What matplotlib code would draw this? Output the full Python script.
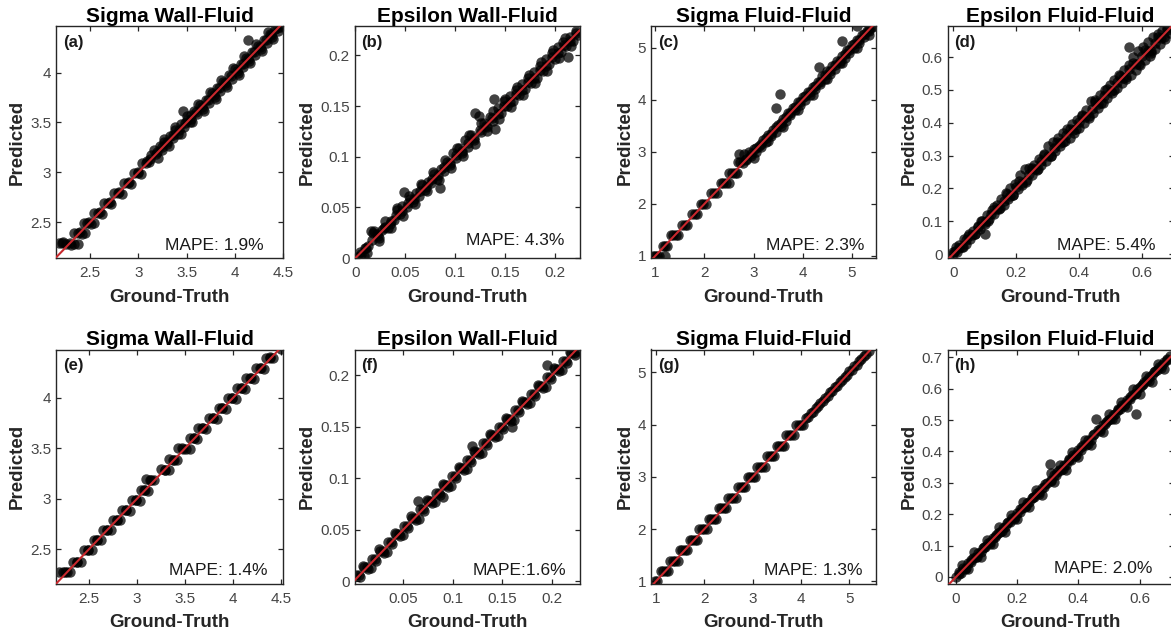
import matplotlib
matplotlib.use("Agg")
import matplotlib.pyplot as plt

plt.rcParams['font.family'] = ['Liberation Sans', 'DejaVu Sans']

titles = ["Sigma Wall-Fluid", "Epsilon Wall-Fluid", "Sigma Fluid-Fluid", "Epsilon Fluid-Fluid",
          "Sigma Wall-Fluid", "Epsilon Wall-Fluid", "Sigma Fluid-Fluid", "Epsilon Fluid-Fluid"]
panel_tags = ["(a)", "(b)", "(c)", "(d)", "(e)", "(f)", "(g)", "(h)"]
mape_texts = ["MAPE: 1.9%", "MAPE: 4.3%", "MAPE: 2.3%", "MAPE: 5.4%",
              "MAPE: 1.4%", "MAPE:1.6%", "MAPE: 1.3%", "MAPE: 2.0%"]

# ---------------- (a) ----------------
gt_a = [2.17, 2.21, 2.25, 2.29, 2.33, 2.37, 2.33, 2.37, 2.41, 2.44, 2.43, 2.47, 2.51, 2.54,
        2.54, 2.58, 2.62, 2.64, 2.68, 2.72, 2.75, 2.79, 2.83, 2.85, 2.89, 2.92, 2.95, 2.99, 3.03,
        3.04, 3.08, 3.11,
        3.13, 3.16, 3.19, 3.22, 3.24, 3.27, 3.30, 3.33, 3.36, 3.38, 3.41, 3.44, 3.47, 3.46, 3.50,
        3.53, 3.55, 3.58, 3.61, 3.64, 3.67, 3.70, 3.73, 3.76, 3.79, 3.82, 3.85, 3.88, 3.91, 3.94,
        3.97, 4.00, 4.03, 4.06, 4.09, 4.12, 4.14, 4.15, 4.18, 4.21, 4.24, 4.27, 4.30, 4.33, 4.36,
        4.39, 4.42, 4.45, 4.48, 4.50]
pred_a = [2.29, 2.29, 2.28, 2.29, 2.28, 2.28, 2.39, 2.39, 2.38, 2.39, 2.49, 2.49, 2.48, 2.49,
          2.59, 2.59, 2.58, 2.69, 2.69, 2.68, 2.79, 2.79, 2.78, 2.89, 2.89, 2.88, 2.99, 2.99, 2.98,
          3.09, 3.09, 3.10,
          3.17, 3.22, 3.20, 3.26, 3.22, 3.30, 3.28, 3.36, 3.34, 3.42, 3.38, 3.48, 3.45, 3.62, 3.52,
          3.50, 3.58, 3.62, 3.59, 3.68, 3.64, 3.73, 3.70, 3.80, 3.76, 3.85, 3.82, 3.91, 3.88, 3.98,
          3.94, 4.04, 4.00, 4.09, 4.06, 4.15, 4.33, 4.12, 4.21, 4.18, 4.27, 4.24, 4.33, 4.30, 4.39,
          4.36, 4.44, 4.42, 4.46, 4.47]
gt_a_core = [3.12, 3.18, 3.24, 3.30, 3.36, 3.42, 3.48, 3.54, 3.60, 3.66, 3.72, 3.78, 3.84, 3.90,
             3.96, 4.02, 4.08, 4.14, 4.20, 4.26, 4.32, 4.38, 4.44,
             3.20, 3.32, 3.44, 3.56, 3.68, 3.80, 3.92, 4.04, 4.16, 4.28, 4.40,
             3.26, 3.38, 3.50, 3.62, 3.74, 3.86, 3.98, 4.10, 4.22, 4.34,
             2.22, 2.30, 2.39, 2.49, 2.60, 2.70, 2.80, 2.90, 3.00, 3.09]
pred_a_core = [3.13, 3.18, 3.25, 3.30, 3.37, 3.42, 3.49, 3.54, 3.61, 3.66, 3.73, 3.78, 3.85, 3.90,
               3.97, 4.02, 4.09, 4.14, 4.21, 4.26, 4.33, 4.38, 4.45,
               3.14, 3.26, 3.38, 3.50, 3.62, 3.74, 3.86, 3.98, 4.10, 4.22, 4.34,
               3.33, 3.45, 3.57, 3.69, 3.81, 3.93, 4.05, 4.17, 4.29, 4.41,
               2.30, 2.27, 2.40, 2.50, 2.60, 2.70, 2.80, 2.90, 3.00, 3.11]

# ---------------- (b) ----------------
gt_b = [0.002, 0.006, 0.009, 0.010, 0.013, 0.016, 0.019, 0.022, 0.024, 0.027, 0.030, 0.033, 0.036,
        0.039, 0.042, 0.045, 0.047, 0.049, 0.052, 0.055, 0.058, 0.061, 0.064, 0.067, 0.070, 0.073,
        0.076, 0.079, 0.082, 0.085, 0.086, 0.089, 0.092, 0.095, 0.098, 0.101, 0.104, 0.107, 0.110,
        0.113, 0.116, 0.119, 0.120, 0.124, 0.126, 0.129, 0.132, 0.135, 0.138, 0.139, 0.140, 0.143,
        0.146, 0.149, 0.152, 0.155, 0.158, 0.161, 0.164, 0.167, 0.170, 0.173, 0.176, 0.179, 0.182,
        0.185, 0.188, 0.191, 0.194, 0.197, 0.200, 0.203, 0.206, 0.208, 0.211, 0.213, 0.215, 0.218,
        0.221, 0.223]
pred_b = [0.001, 0.004, 0.002, 0.010, 0.012, 0.027, 0.027, 0.024, 0.020, 0.028, 0.031, 0.030, 0.037,
          0.038, 0.047, 0.043, 0.051, 0.065, 0.050, 0.058, 0.055, 0.064, 0.061, 0.072, 0.067, 0.075,
          0.074, 0.083, 0.078, 0.069, 0.088, 0.086, 0.095, 0.092, 0.104, 0.099, 0.109, 0.104, 0.116,
          0.110, 0.121, 0.116, 0.143, 0.140, 0.124, 0.133, 0.129, 0.139, 0.135, 0.157, 0.127, 0.148,
          0.143, 0.155, 0.150, 0.160, 0.155, 0.166, 0.161, 0.172, 0.167, 0.178, 0.173, 0.184, 0.178,
          0.190, 0.185, 0.196, 0.191, 0.202, 0.196, 0.208, 0.203, 0.213, 0.209, 0.198, 0.218, 0.214,
          0.224, 0.220]
gt_b_core = [0.005, 0.011, 0.017, 0.023, 0.029, 0.035, 0.041, 0.047, 0.053, 0.059, 0.065, 0.071,
             0.077, 0.083, 0.089, 0.095, 0.101, 0.107, 0.113, 0.119, 0.125, 0.131, 0.137, 0.143,
             0.149, 0.155, 0.161, 0.167, 0.173, 0.179, 0.185, 0.191, 0.197, 0.203, 0.209, 0.215, 0.221,
             0.012, 0.024, 0.036, 0.048, 0.060, 0.072, 0.084, 0.096, 0.108, 0.120, 0.132, 0.144,
             0.156, 0.168, 0.180, 0.192, 0.204, 0.216,
             0.018, 0.030, 0.042, 0.054, 0.066, 0.078, 0.090, 0.102, 0.114, 0.126, 0.138, 0.150,
             0.162, 0.174, 0.186, 0.198, 0.210]
pred_b_core = [0.006, 0.010, 0.018, 0.022, 0.030, 0.034, 0.042, 0.046, 0.054, 0.058, 0.066, 0.070,
               0.078, 0.082, 0.090, 0.094, 0.102, 0.106, 0.114, 0.118, 0.126, 0.130, 0.138, 0.142,
               0.150, 0.154, 0.162, 0.166, 0.174, 0.178, 0.186, 0.190, 0.198, 0.202, 0.210, 0.214, 0.222,
               0.005, 0.017, 0.030, 0.041, 0.053, 0.066, 0.077, 0.089, 0.101, 0.113, 0.125, 0.137,
               0.149, 0.161, 0.173, 0.185, 0.197, 0.209,
               0.025, 0.037, 0.049, 0.061, 0.073, 0.085, 0.097, 0.109, 0.121, 0.133, 0.145, 0.157,
               0.169, 0.181, 0.193, 0.205, 0.217]

# ---------------- (c) ----------------
gt_c = [0.96, 1.00, 1.04, 1.08, 1.19, 1.15, 1.19, 1.24, 1.32, 1.37, 1.42, 1.47, 1.55, 1.60, 1.65,
        1.75, 1.80, 1.85, 1.93, 1.98, 2.04, 2.14, 2.20, 2.26, 2.33, 2.38, 2.44, 2.50, 2.50, 2.56,
        2.62, 2.67, 2.68, 2.73, 2.78, 2.70, 2.80, 2.85, 2.90, 2.95, 3.00, 3.05, 3.10, 3.15, 3.20,
        3.25, 3.30, 3.35, 3.40, 3.45, 3.46, 3.50, 3.54, 3.55, 3.60, 3.65, 3.70, 3.75, 3.80, 3.85,
        3.90, 3.95, 4.00, 4.05, 4.10, 4.15, 4.20, 4.25, 4.30, 4.34, 4.35, 4.40, 4.45, 4.50, 4.55,
        4.60, 4.65, 4.70, 4.75, 4.80, 4.80, 4.85, 4.90, 4.95, 5.00, 5.05, 5.10, 5.10, 5.15, 5.20,
        5.25, 5.30, 5.35, 5.40, 5.45]
pred_c = [1.00, 1.00, 1.00, 1.00, 1.00, 1.20, 1.20, 1.20, 1.40, 1.40, 1.40, 1.40, 1.60, 1.60, 1.60,
          1.80, 1.80, 1.80, 2.00, 2.00, 2.00, 2.20, 2.20, 2.20, 2.40, 2.40, 2.40, 2.40, 2.60, 2.60,
          2.60, 2.60, 2.80, 2.80, 2.78, 2.95, 2.95, 2.85, 3.00, 2.92, 3.05, 3.00, 3.12, 3.10, 3.22,
          3.18, 3.32, 3.30, 3.42, 3.38, 3.85, 3.52, 4.11, 3.50, 3.63, 3.60, 3.74, 3.70, 3.84, 3.80,
          3.95, 3.90, 4.05, 4.00, 4.15, 4.10, 4.25, 4.20, 4.35, 4.62, 4.30, 4.45, 4.40, 4.55, 4.50,
          4.65, 4.60, 4.75, 4.70, 5.13, 4.85, 4.80, 4.95, 4.90, 5.05, 5.00, 5.41, 5.15, 5.10, 5.25,
          5.20, 5.33, 5.32, 5.40, 5.41]
gt_c_core = [2.85, 2.95, 3.05, 3.15, 3.25, 3.35, 3.45, 3.55, 3.65, 3.75, 3.85, 3.95, 4.05, 4.15,
             4.25, 4.35, 4.45, 4.55, 4.65, 4.75, 4.85, 4.95, 5.05, 5.15, 5.25, 5.35,
             3.00, 3.30, 3.60, 3.90, 4.20, 4.50, 4.80, 5.10, 5.35]
pred_c_core = [2.87, 2.95, 3.07, 3.15, 3.27, 3.35, 3.47, 3.55, 3.67, 3.75, 3.87, 3.95, 4.07, 4.15,
               4.27, 4.35, 4.47, 4.55, 4.67, 4.75, 4.87, 4.95, 5.07, 5.15, 5.27, 5.35,
               2.88, 3.20, 3.48, 3.80, 4.10, 4.40, 4.70, 5.00, 5.25]

# ---------------- (d) ----------------
gt_d = [0.000, 0.005, 0.012, 0.020, 0.028, 0.035, 0.040, 0.048, 0.055, 0.062, 0.070, 0.078, 0.085,
        0.092, 0.100, 0.100, 0.108, 0.115, 0.122, 0.130, 0.138, 0.145, 0.152, 0.160, 0.168, 0.175,
        0.182, 0.190, 0.198, 0.205, 0.212, 0.220, 0.228, 0.235, 0.242, 0.250, 0.258, 0.265, 0.272,
        0.280, 0.288, 0.295, 0.302, 0.310, 0.318, 0.325, 0.332, 0.340, 0.348, 0.355, 0.362, 0.370,
        0.378, 0.385, 0.392, 0.400, 0.408, 0.415, 0.422, 0.430, 0.438, 0.445, 0.452, 0.460, 0.468,
        0.475, 0.482, 0.490, 0.498, 0.505, 0.512, 0.520, 0.528, 0.535, 0.542, 0.550, 0.558, 0.560,
        0.565, 0.572, 0.580, 0.588, 0.595, 0.602, 0.610, 0.618, 0.625, 0.630, 0.635, 0.642, 0.650,
        0.658, 0.665, 0.672, 0.680, 0.690]
pred_d = [0.000, 0.008, 0.005, 0.028, 0.020, 0.045, 0.030, 0.055, 0.045, 0.070, 0.060, 0.086, 0.075,
          0.100, 0.060, 0.092, 0.118, 0.108, 0.135, 0.122, 0.150, 0.138, 0.168, 0.150, 0.185, 0.168,
          0.200, 0.180, 0.215, 0.198, 0.240, 0.210, 0.258, 0.225, 0.262, 0.240, 0.270, 0.255, 0.290,
          0.270, 0.305, 0.285, 0.330, 0.300, 0.340, 0.315, 0.355, 0.330, 0.370, 0.345, 0.380, 0.355,
          0.395, 0.370, 0.410, 0.385, 0.425, 0.400, 0.440, 0.415, 0.465, 0.430, 0.470, 0.445, 0.485,
          0.460, 0.500, 0.475, 0.515, 0.490, 0.530, 0.505, 0.545, 0.520, 0.560, 0.535, 0.575, 0.630,
          0.545, 0.600, 0.560, 0.620, 0.575, 0.630, 0.590, 0.645, 0.605, 0.612, 0.660, 0.625, 0.670,
          0.640, 0.680, 0.655, 0.690, 0.675]
gt_d_core = [0.00, 0.02, 0.04, 0.06, 0.08, 0.10, 0.12, 0.14, 0.16, 0.18, 0.20, 0.22, 0.24, 0.26,
             0.28, 0.30, 0.32, 0.34, 0.36, 0.38, 0.40, 0.42, 0.44, 0.46, 0.48, 0.50, 0.52, 0.54,
             0.56, 0.58, 0.60, 0.62, 0.64, 0.66, 0.68,
             0.01, 0.03, 0.05, 0.07, 0.09, 0.11, 0.13, 0.15, 0.17, 0.19, 0.21, 0.23, 0.25, 0.27,
             0.29, 0.31, 0.33, 0.35, 0.37, 0.39, 0.41, 0.43, 0.45, 0.47, 0.49, 0.51, 0.53, 0.55,
             0.57, 0.59, 0.61, 0.63, 0.65, 0.67]
pred_d_core = [0.005, 0.018, 0.043, 0.058, 0.083, 0.098, 0.123, 0.138, 0.163, 0.178, 0.203, 0.218,
               0.243, 0.258, 0.283, 0.298, 0.323, 0.338, 0.363, 0.378, 0.403, 0.418, 0.443, 0.458,
               0.483, 0.498, 0.523, 0.538, 0.563, 0.578, 0.603, 0.618, 0.643, 0.658, 0.683,
               0.022, 0.020, 0.062, 0.060, 0.102, 0.100, 0.142, 0.140, 0.182, 0.180, 0.222, 0.220,
               0.262, 0.260, 0.302, 0.300, 0.342, 0.340, 0.382, 0.380, 0.422, 0.420, 0.462, 0.460,
               0.502, 0.500, 0.542, 0.540, 0.582, 0.580, 0.622, 0.620, 0.662, 0.660]

# ---------------- (e) ----------------
gt_e = [2.19, 2.23, 2.27, 2.31, 2.34, 2.38, 2.42, 2.45, 2.49, 2.53, 2.55, 2.59, 2.63, 2.65, 2.69,
        2.73, 2.75, 2.79, 2.83, 2.85, 2.89, 2.93, 2.95, 2.99, 3.03, 3.04, 3.08, 3.12, 3.10, 3.14,
        3.18, 3.25, 3.29, 3.33, 3.34, 3.38, 3.42, 3.43, 3.47, 3.51, 3.55, 3.55, 3.59, 3.63, 3.64,
        3.68, 3.72, 3.75, 3.79, 3.83, 3.85, 3.89, 3.93, 3.95, 3.99, 4.03, 4.04, 4.08, 4.12, 4.14,
        4.18, 4.22, 4.24, 4.28, 4.32, 4.34, 4.38, 4.42, 4.50]
pred_e = [2.28, 2.28, 2.28, 2.28, 2.38, 2.38, 2.38, 2.49, 2.49, 2.49, 2.59, 2.59, 2.59, 2.69, 2.69,
          2.69, 2.79, 2.79, 2.79, 2.89, 2.89, 2.88, 2.99, 2.99, 2.98, 3.09, 3.09, 3.08, 3.20, 3.19,
          3.19, 3.30, 3.29, 3.29, 3.40, 3.39, 3.39, 3.50, 3.50, 3.49, 3.49, 3.60, 3.60, 3.59, 3.70,
          3.70, 3.69, 3.80, 3.80, 3.79, 3.90, 3.90, 3.89, 4.00, 4.00, 3.99, 4.10, 4.10, 4.09, 4.20,
          4.20, 4.19, 4.30, 4.30, 4.29, 4.39, 4.40, 4.39, 4.48]
gt_e_core = [2.25, 2.38, 2.49, 2.59, 2.69, 2.79, 2.89, 2.99, 3.09, 3.15, 3.29, 3.39, 3.48, 3.59,
             3.69, 3.79, 3.89, 3.99, 4.09, 4.19, 4.29, 4.39]
pred_e_core = [2.28, 2.38, 2.49, 2.59, 2.69, 2.79, 2.89, 2.99, 3.09, 3.19, 3.29, 3.39, 3.49, 3.60,
               3.70, 3.80, 3.90, 4.00, 4.10, 4.20, 4.30, 4.39]

# ---------------- (f) ----------------
gt_f = [0.003, 0.007, 0.011, 0.015, 0.019, 0.023, 0.027, 0.031, 0.035, 0.039, 0.043, 0.047, 0.051,
        0.055, 0.059, 0.063, 0.067, 0.071, 0.075, 0.079, 0.083, 0.087, 0.091, 0.095, 0.099, 0.103,
        0.107, 0.111, 0.115, 0.119, 0.123, 0.127, 0.131, 0.135, 0.139, 0.143, 0.147, 0.151, 0.155,
        0.159, 0.163, 0.167, 0.171, 0.175, 0.179, 0.183, 0.187, 0.191, 0.195, 0.199, 0.203, 0.207,
        0.211, 0.215, 0.219, 0.223, 0.226]
pred_f = [0.006, 0.004, 0.014, 0.012, 0.022, 0.020, 0.030, 0.028, 0.038, 0.036, 0.046, 0.044, 0.054,
          0.052, 0.062, 0.060, 0.070, 0.068, 0.078, 0.076, 0.086, 0.084, 0.094, 0.092, 0.102, 0.100,
          0.110, 0.108, 0.118, 0.116, 0.126, 0.124, 0.134, 0.132, 0.142, 0.140, 0.150, 0.148, 0.158,
          0.156, 0.166, 0.164, 0.174, 0.172, 0.182, 0.180, 0.190, 0.188, 0.198, 0.196, 0.206, 0.204,
          0.214, 0.212, 0.222, 0.220, 0.224]
gt_f_core = [0.006, 0.014, 0.022, 0.030, 0.038, 0.046, 0.054, 0.062, 0.070, 0.078, 0.086, 0.094,
             0.102, 0.110, 0.118, 0.126, 0.134, 0.142, 0.150, 0.158, 0.166, 0.174, 0.182, 0.190,
             0.198, 0.206, 0.214, 0.222,
             0.065, 0.090, 0.120, 0.160, 0.195,
             0.010, 0.018, 0.026, 0.034, 0.042, 0.050, 0.058, 0.066, 0.074, 0.082, 0.090, 0.098,
             0.106, 0.114, 0.122, 0.130, 0.138, 0.146, 0.154, 0.162, 0.170, 0.178, 0.186, 0.194,
             0.202, 0.210, 0.218]
pred_f_core = [0.006, 0.014, 0.022, 0.030, 0.038, 0.046, 0.054, 0.062, 0.070, 0.078, 0.086, 0.094,
               0.102, 0.110, 0.118, 0.126, 0.134, 0.142, 0.150, 0.158, 0.166, 0.174, 0.182, 0.190,
               0.198, 0.206, 0.214, 0.222,
               0.078, 0.082, 0.131, 0.150, 0.210,
               0.015, 0.013, 0.031, 0.029, 0.047, 0.045, 0.063, 0.061, 0.079, 0.077, 0.095, 0.093,
               0.111, 0.109, 0.127, 0.125, 0.143, 0.141, 0.159, 0.157, 0.175, 0.173, 0.191, 0.189,
               0.207, 0.205, 0.223]

# ---------------- (g) ----------------
gt_g = [0.98, 1.02, 1.15, 1.20, 1.25, 1.35, 1.40, 1.45, 1.55, 1.60, 1.65, 1.75, 1.80, 1.85, 1.95,
        2.00, 2.05, 2.15, 2.20, 2.25, 2.35, 2.40, 2.45, 2.55, 2.60, 2.65, 2.75, 2.80, 2.85, 2.95,
        3.00, 3.05, 3.15, 3.20, 3.25, 3.35, 3.40, 3.45, 3.55, 3.60, 3.65, 3.75, 3.80, 3.85, 3.95,
        4.00, 4.05, 4.10, 4.15, 4.20, 4.25, 4.30, 4.35, 4.40, 4.45, 4.50, 4.55, 4.60, 4.65, 4.70,
        4.75, 4.80, 4.85, 4.90, 4.95, 5.00, 5.05, 5.10, 5.15, 5.20, 5.25, 5.30, 5.35, 5.40]
pred_g = [1.00, 1.00, 1.20, 1.20, 1.20, 1.40, 1.40, 1.40, 1.60, 1.60, 1.60, 1.80, 1.80, 1.80, 2.00,
          2.00, 2.00, 2.20, 2.20, 2.20, 2.40, 2.40, 2.40, 2.60, 2.60, 2.60, 2.80, 2.80, 2.80, 3.00,
          3.00, 3.00, 3.20, 3.20, 3.20, 3.40, 3.40, 3.40, 3.60, 3.60, 3.60, 3.80, 3.80, 3.80, 4.00,
          4.00, 4.00, 4.12, 4.15, 4.22, 4.25, 4.32, 4.35, 4.42, 4.45, 4.52, 4.55, 4.62, 4.65, 4.72,
          4.75, 4.82, 4.85, 4.92, 4.95, 5.02, 5.05, 5.12, 5.15, 5.22, 5.25, 5.32, 5.35, 5.42]
gt_g_core = [1.10, 1.30, 1.50, 1.70, 1.90, 2.10, 2.30, 2.50, 2.70, 2.90, 3.10, 3.30, 3.50, 3.70, 3.90]
pred_g_core = [1.20, 1.40, 1.60, 1.80, 2.00, 2.20, 2.40, 2.60, 2.80, 3.00, 3.20, 3.40, 3.60, 3.80, 4.00]

# ---------------- (h) ----------------
gt_h = [0.000, 0.008, 0.016, 0.024, 0.032, 0.040, 0.048, 0.056, 0.064, 0.072, 0.080, 0.088, 0.096,
        0.104, 0.112, 0.120, 0.128, 0.136, 0.144, 0.152, 0.160, 0.168, 0.176, 0.184, 0.192, 0.200,
        0.208, 0.216, 0.224, 0.232, 0.240, 0.248, 0.256, 0.264, 0.272, 0.280, 0.288, 0.296, 0.307,
        0.309, 0.312, 0.320, 0.328, 0.336, 0.344, 0.352, 0.360, 0.368, 0.376, 0.384, 0.392, 0.400,
        0.408, 0.416, 0.424, 0.432, 0.440, 0.448, 0.456, 0.464, 0.472, 0.480, 0.488, 0.496, 0.504,
        0.512, 0.520, 0.528, 0.536, 0.544, 0.552, 0.560, 0.568, 0.576, 0.584, 0.590, 0.592, 0.600,
        0.608, 0.616, 0.624, 0.632, 0.640, 0.648, 0.656, 0.664, 0.672, 0.680, 0.690, 0.700]
pred_h = [0.000, 0.010, 0.014, 0.028, 0.030, 0.043, 0.046, 0.060, 0.062, 0.076, 0.078, 0.092, 0.094,
          0.108, 0.110, 0.124, 0.126, 0.140, 0.142, 0.156, 0.158, 0.172, 0.174, 0.188, 0.190, 0.204,
          0.206, 0.220, 0.222, 0.236, 0.238, 0.252, 0.254, 0.268, 0.270, 0.284, 0.286, 0.300, 0.360,
          0.330, 0.310, 0.324, 0.326, 0.340, 0.342, 0.356, 0.358, 0.372, 0.374, 0.388, 0.390, 0.404,
          0.406, 0.420, 0.422, 0.436, 0.438, 0.452, 0.503, 0.468, 0.470, 0.484, 0.486, 0.500, 0.502,
          0.516, 0.518, 0.532, 0.534, 0.548, 0.550, 0.564, 0.566, 0.580, 0.582, 0.520, 0.598, 0.604,
          0.612, 0.620, 0.628, 0.636, 0.644, 0.652, 0.660, 0.668, 0.676, 0.684, 0.692, 0.705]
gt_h_core = [0.02, 0.06, 0.10, 0.14, 0.18, 0.22, 0.26, 0.34, 0.38, 0.42, 0.50, 0.54, 0.58, 0.62, 0.66,
             0.04, 0.08, 0.12, 0.16, 0.20, 0.24, 0.28, 0.32, 0.36, 0.40, 0.44, 0.48, 0.52, 0.56,
             0.60, 0.64, 0.68,
             0.01, 0.03, 0.05, 0.07, 0.09, 0.11, 0.13, 0.15, 0.17, 0.19, 0.21, 0.23, 0.25, 0.27,
             0.29, 0.31, 0.33, 0.35, 0.37, 0.39, 0.41, 0.43, 0.45, 0.47, 0.49, 0.51, 0.53, 0.55,
             0.57, 0.59, 0.61, 0.63, 0.65, 0.67, 0.69]
pred_h_core = [0.038, 0.078, 0.118, 0.158, 0.198, 0.238, 0.278, 0.358, 0.398, 0.438, 0.518, 0.558,
               0.598, 0.640, 0.678,
               0.024, 0.064, 0.104, 0.144, 0.184, 0.224, 0.262, 0.302, 0.342, 0.382, 0.422, 0.462,
               0.502, 0.542, 0.582, 0.622, 0.662,
               0.015, 0.025, 0.055, 0.065, 0.095, 0.105, 0.135, 0.145, 0.175, 0.185, 0.215, 0.225,
               0.255, 0.265, 0.295, 0.305, 0.335, 0.345, 0.375, 0.385, 0.415, 0.425, 0.455, 0.465,
               0.495, 0.505, 0.535, 0.545, 0.575, 0.585, 0.615, 0.625, 0.655, 0.665, 0.695]

gts = [gt_a + gt_a_core, gt_b + gt_b_core, gt_c + gt_c_core, gt_d + gt_d_core,
       gt_e + gt_e_core, gt_f + gt_f_core, gt_g + gt_g_core, gt_h + gt_h_core]
preds = [pred_a + pred_a_core, pred_b + pred_b_core, pred_c + pred_c_core, pred_d + pred_d_core,
         pred_e + pred_e_core, pred_f + pred_f_core, pred_g + pred_g_core, pred_h + pred_h_core]

xlims = [(2.144, 4.50), (-0.001, 0.2245), (0.913, 5.49), (-0.018, 0.70),
         (2.16, 4.52), (0.001, 0.228), (0.90, 5.55), (-0.028, 0.711)]
ylims = [(2.139, 4.469), (0.0, 0.229), (0.96, 5.417), (-0.012, 0.695),
         (2.163, 4.479), (-0.002, 0.225), (0.96, 5.44), (-0.021, 0.725)]
xticks = [[2.5, 3, 3.5, 4, 4.5], [0, 0.05, 0.1, 0.15, 0.2], [1, 2, 3, 4, 5], [0, 0.2, 0.4, 0.6],
          [2.5, 3, 3.5, 4, 4.5], [0.05, 0.1, 0.15, 0.2], [1, 2, 3, 4, 5], [0, 0.2, 0.4, 0.6]]
yticks = [[2.5, 3, 3.5, 4], [0, 0.05, 0.1, 0.15, 0.2], [1, 2, 3, 4, 5], [0, 0.1, 0.2, 0.3, 0.4, 0.5, 0.6],
          [2.5, 3, 3.5, 4], [0, 0.05, 0.1, 0.15, 0.2], [1, 2, 3, 4, 5], [0, 0.1, 0.2, 0.3, 0.4, 0.5, 0.6, 0.7]]
mape_pos = [(0.915, 0.055), (0.935, 0.075), (0.95, 0.055), (0.92, 0.055),
            (0.93, 0.055), (0.94, 0.055), (0.94, 0.055), (0.905, 0.065)]

W, H = 1171, 634
col_left = [56, 354.5, 651, 947.5]
col_w = [227, 225, 225, 226]
row_top = [26, 349.5]
row_h = [232, 234]

fig = plt.figure(figsize=(W / 100, H / 100), dpi=100)
fig.patch.set_facecolor('white')

for i in range(8):
    r, c = divmod(i, 4)
    left = col_left[c] / W
    bottom = (H - row_top[r] - row_h[r]) / H
    ax = fig.add_axes([left, bottom, col_w[c] / W, row_h[r] / H])
    ax.scatter(gts[i], preds[i], s=56, color='black', alpha=0.74, linewidths=0, zorder=2)
    ax.axline((0, 0), (1, 1), color='#c8282d', lw=1.5, zorder=3)
    ax.set_xlim(*xlims[i])
    ax.set_ylim(*ylims[i])
    ax.set_xticks(xticks[i])
    ax.set_yticks(yticks[i])
    ax.set_xticklabels([f"{t:g}" for t in xticks[i]])
    ax.set_yticklabels([f"{t:g}" for t in yticks[i]])
    ax.tick_params(direction='in', length=3.5, width=0.9, top=True, right=True,
                   labelsize=11, labelcolor='#454545', color='#262626')
    ax.tick_params(axis='x', pad=6)
    ax.tick_params(axis='y', pad=3.5)
    for sp in ax.spines.values():
        sp.set_linewidth(1.0)
        sp.set_color('#262626')
    ax.set_title(titles[i], fontsize=15, fontweight='bold', pad=3)
    ax.set_xlabel("Ground-Truth", fontsize=13.5, fontweight='bold', labelpad=6, color='#262626')
    ax.set_ylabel("Predicted", fontsize=13.5, fontweight='bold', labelpad=3, color='#262626')
    ax.text(0.03, 0.93, panel_tags[i], transform=ax.transAxes, fontsize=12,
            fontweight='bold', ha='left', va='center', color='#1a1a1a')
    ax.text(mape_pos[i][0], mape_pos[i][1], mape_texts[i], transform=ax.transAxes,
            fontsize=12.5, ha='right', va='center', color='#1a1a1a')

fig.savefig("out.png", dpi=100, facecolor='white')
